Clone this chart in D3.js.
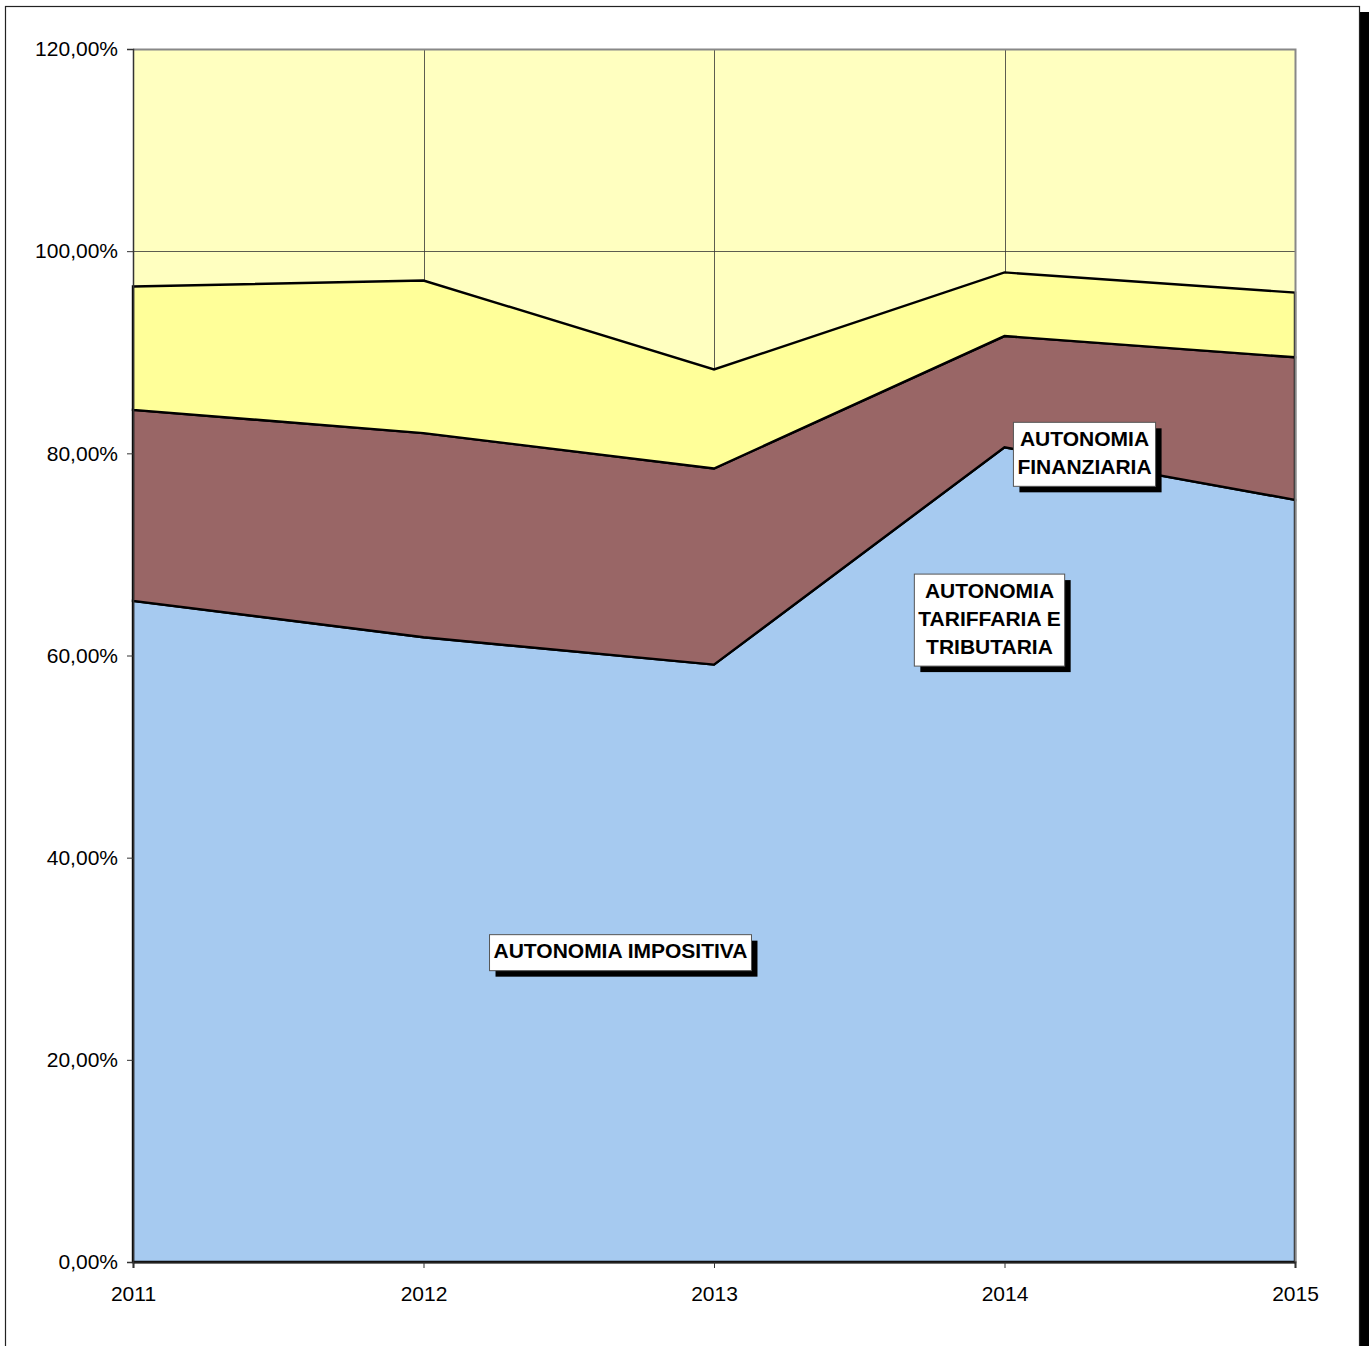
<!DOCTYPE html>
<html>
<head>
<meta charset="utf-8">
<script src="https://cdn.jsdelivr.net/npm/d3@7"></script>
<style>
  html, body { margin: 0; padding: 0; background: #fff; overflow: hidden; }
  svg { display: block; }
  text { font-family: "Liberation Sans", Arial, sans-serif; }
</style>
</head>
<body>
<svg id="chart" width="1369" height="1346"></svg>
<script>
// ---- data ----
const years = ["2011", "2012", "2013", "2014", "2015"];
const impositiva = [65.4, 61.8, 59.1, 80.6, 75.4];
const tariffaria = [18.9, 20.2, 19.4, 11.0, 14.1];
const finanziaria = [12.2, 15.1, 9.8, 6.3, 6.4];
const seriesNames = ["impositiva", "tariffaria", "finanziaria"];
const yTicks = [0, 20, 40, 60, 80, 100, 120];
const labelTexts = [
  { lines: ["AUTONOMIA IMPOSITIVA"], year: "2012", value: 30.8, dx: 197 },
  { lines: ["AUTONOMIA", "TARIFFARIA E", "TRIBUTARIA"], year: "2014", value: 63.7, dx: -15 },
  { lines: ["AUTONOMIA", "FINANZIARIA"], year: "2014", value: 80.1, dx: 80 }
];

(function () {
// ---- layout ----
const svg = d3.select("#chart");
const pLeft = 133, pRight = 1295, pTop = 49, pBottom = 1262;
const colors = { impositiva: "#A6CAF0", tariffaria: "#996666", finanziaria: "#FFFF99" };

// outer chart frame with shadow
svg.append("rect").attr("x", 1360).attr("y", 12).attr("width", 9).attr("height", 1340).attr("fill", "#000");
svg.append("rect").attr("x", 5.5).attr("y", 6.5).attr("width", 1354).attr("height", 1350)
  .attr("fill", "#fff").attr("stroke", "#222").attr("stroke-width", 1.2);

const x = d3.scalePoint().domain(years).range([pLeft, pRight]);
const y = d3.scaleLinear().domain([0, 120]).range([pBottom, pTop]);

// plot background
svg.append("rect").attr("x", pLeft).attr("y", pTop).attr("width", pRight - pLeft).attr("height", pBottom - pTop)
  .attr("fill", "#FFFFC0");

// gridlines
const g = svg.append("g");
g.selectAll(".hgrid").data(yTicks.filter(t => t > 0)).join("line")
  .attr("x1", pLeft).attr("x2", pRight)
  .attr("y1", d => Math.round(y(d)) + 0.5).attr("y2", d => Math.round(y(d)) + 0.5)
  .attr("stroke", "#333").attr("stroke-width", 0.8);
g.selectAll(".vgrid").data(years.slice(1, -1)).join("line")
  .attr("x1", d => Math.round(x(d)) + 0.5).attr("x2", d => Math.round(x(d)) + 0.5)
  .attr("y1", pTop).attr("y2", pBottom)
  .attr("stroke", "#333").attr("stroke-width", 0.8);

// stacked areas
const table = years.map((yr, i) => ({
  year: yr, impositiva: impositiva[i], tariffaria: tariffaria[i], finanziaria: finanziaria[i]
}));
const stacked = d3.stack().keys(seriesNames)(table);
const area = d3.area()
  .x(d => x(d.data.year))
  .y0(d => y(d[0]))
  .y1(d => y(d[1]));
svg.append("g").selectAll("path").data(stacked).join("path")
  .attr("d", area)
  .attr("fill", d => colors[d.key])
  .attr("stroke", "#000")
  .attr("stroke-width", 2.4)
  .attr("stroke-linejoin", "miter");

// plot border (top/right gray)
svg.append("path")
  .attr("d", `M${pLeft},${pTop + 0.5}H${pRight + 0.5}V${pBottom}`)
  .attr("fill", "none").attr("stroke", "#888").attr("stroke-width", 2);

// y axis
const yAxis = d3.axisLeft(y).tickValues(yTicks).tickSize(6).tickPadding(9)
  .tickFormat(d => d3.format(".2f")(d).replace(".", ",") + "%");
const ya = svg.append("g").attr("transform", `translate(${pLeft},0)`).call(yAxis);
ya.select(".domain").attr("stroke", "#333").attr("stroke-width", 1.5);
ya.selectAll(".tick line").attr("stroke", "#333");
ya.selectAll(".tick text").attr("font-size", 21).attr("fill", "#000")
  .attr("font-family", "'Liberation Sans', Arial, sans-serif");

// x axis
const xAxis = d3.axisBottom(x).tickSize(6).tickPadding(18);
const xa = svg.append("g").attr("transform", `translate(0,${pBottom})`).call(xAxis);
xa.select(".domain").attr("stroke", "#222").attr("stroke-width", 2);
xa.selectAll(".tick line").attr("stroke", "#333");
xa.selectAll(".tick text").attr("font-size", 21).attr("fill", "#000")
  .attr("font-family", "'Liberation Sans', Arial, sans-serif");

// labels with shadow boxes
const lineH = 28;
labelTexts.forEach(lab => {
  const cx = x(lab.year) + lab.dx;
  const cy = y(lab.value);
  const lg = svg.append("g");
  const tg = lg.append("g");
  lab.lines.forEach((ln, i) => {
    tg.append("text")
      .attr("x", cx)
      .attr("y", cy + (i - (lab.lines.length - 1) / 2) * lineH)
      .attr("dy", "0.36em")
      .attr("text-anchor", "middle")
      .attr("font-size", 21)
      .attr("font-weight", "bold")
      .attr("fill", "#000")
      .text(ln);
  });
  const bb = tg.node().getBBox();
  const padX = 4, padY = 3;
  const bx = bb.x - padX, by = cy - (lab.lines.length * lineH) / 2 - padY + 1;
  const bw = bb.width + 2 * padX, bh = lab.lines.length * lineH + 2 * padY + 2;
  lg.insert("rect", ":first-child").attr("x", bx).attr("y", by).attr("width", bw).attr("height", bh)
    .attr("fill", "#fff").attr("stroke", "#555").attr("stroke-width", 1);
  lg.insert("rect", ":first-child").attr("x", bx + 6).attr("y", by + 6).attr("width", bw).attr("height", bh)
    .attr("fill", "#000");
});
})();
</script>
</body>
</html>
